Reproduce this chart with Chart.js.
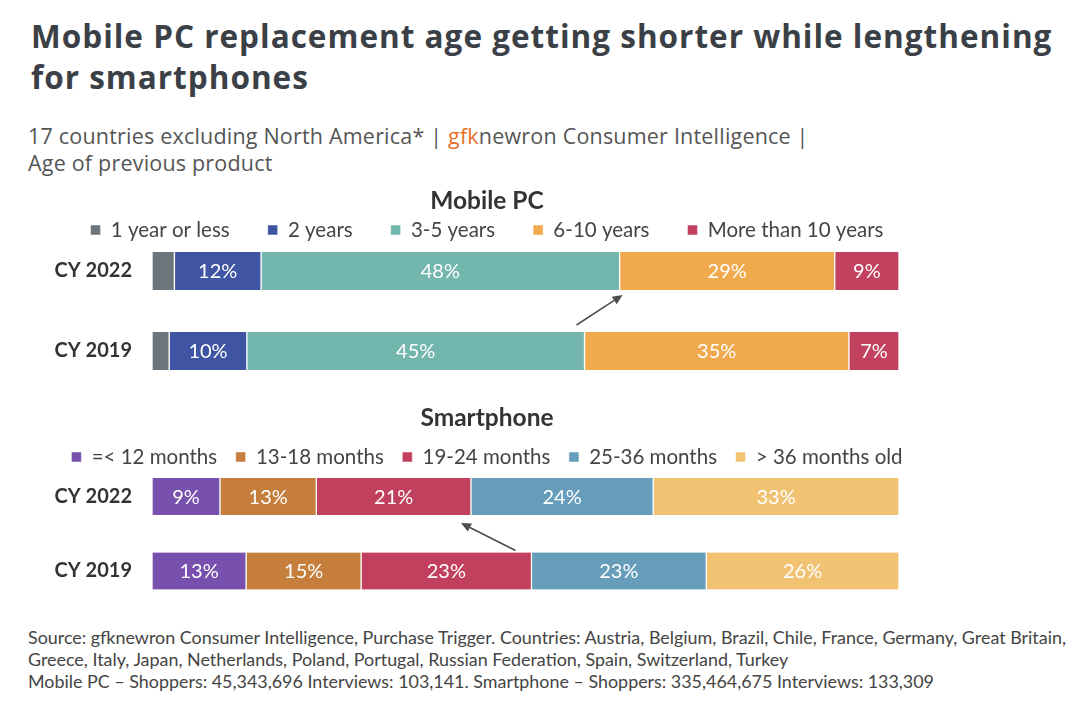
<!DOCTYPE html>
<html>
<head>
<meta charset="utf-8">
<script src="https://cdn.jsdelivr.net/npm/chart.js@4.4.0/dist/chart.umd.min.js"></script>
<style>
  html, body { margin: 0; padding: 0; background: #fff; }
  body { width: 1080px; height: 704px; position: relative; overflow: hidden; }
  h1 { position: absolute; left: 31px; top: 15px; margin: 0; width: 1045px;
       font: 700 31.5px/41px "Open Sans", sans-serif; letter-spacing: 1px; color: #3b4046; }
  .sub { position: absolute; left: 28px; top: 122px; margin: 0;
         font: 400 21.5px/27px "Open Sans", sans-serif; letter-spacing: 0.2px; color: #555; }
  .sub .gfk { color: #e8702a; }
  .box { position: absolute; left: 0; width: 975px; height: 203px; }
  #pcBox { top: 180px; }
  #spBox { top: 400px; }
  .foot { position: absolute; left: 28px; top: 626px;
          font: 400 17.9px/22px Lato, sans-serif; color: #444; white-space: nowrap; }
</style>
</head>
<body>
<h1>Mobile PC replacement age getting shorter while lengthening for smartphones</h1>
<p class="sub">17 countries excluding North America* | <span class="gfk">gfk</span>newron Consumer Intelligence |<br>Age of previous product</p>
<div class="box" id="pcBox"><canvas id="pcChart"></canvas></div>
<div class="box" id="spBox"><canvas id="spChart"></canvas></div>
<div class="foot">Source: gfknewron Consumer Intelligence, Purchase Trigger. Countries: Austria, Belgium, Brazil, Chile, France, Germany, Great Britain,<br>Greece, Italy, Japan, Netherlands, Poland, Portugal, Russian Federation, Spain, Switzerland, Turkey<br>Mobile PC – Shoppers: 45,343,696 Interviews: 103,141. Smartphone – Shoppers: 335,464,675 Interviews: 133,309</div>

<script>
// survey waves, top bar first
const years = ['CY 2022', 'CY 2019'];

// Mobile PC: age of previous product, % share (CY 2022, CY 2019)
const pcNames = ['1 year or less', '2 years', '3-5 years', '6-10 years', 'More than 10 years'];
const pcUpTo1 = [3.0, 2.3];
const pc2 = [11.6, 10.4];
const pc3to5 = [48.0, 45.2];
const pc6to10 = [28.8, 35.4];
const pcOver10 = [8.6, 6.7];

// Smartphone: age of previous product, % share (CY 2022, CY 2019)
const spNames = ['=< 12 months', '13-18 months', '19-24 months', '25-36 months', '> 36 months old'];
const spUpTo12 = [9.1, 12.6];
const sp13to18 = [12.9, 15.4];
const sp19to24 = [20.7, 22.8];
const sp25to36 = [24.4, 23.4];
const spOver36 = [32.9, 25.8];

const pcColors = ['#6c747c', '#3f55a3', '#73b6ad', '#f0a94c', '#c1415f'];
const spColors = ['#7850ad', '#c67e3c', '#c1405d', '#669dbb', '#f2c273'];

// legend: one row that may run wider than the plot, sitting close to the bars
const legendPlace = {
  id: 'legendPlace',
  beforeUpdate(chart, args, opts) {
    const lg = chart.legend;
    if (!lg || lg._placed) return;
    lg._placed = true;
    const fit = lg.fit, draw = lg.draw;
    const extra = 150;
    lg.fit = function () {
      const mw = this.maxWidth;
      this.maxWidth = mw + 2 * extra;
      fit.call(this);
      this.maxWidth = mw;
      this.width = Math.min(this.width, mw);
      this.height = opts.height;
    };
    lg.draw = function () {
      const pad = this.options.labels.padding;
      const fs = this.options.labels.font.size;
      const { top, bottom, left, right } = this;
      this.top = opts.textY - pad - fs / 2;
      this.bottom = this.top + pad + fs + 12;
      this.left = left - extra;
      this.right = right + extra;
      draw.call(this);
      Object.assign(this, { top, bottom, left, right });
    };
  }
};

// percentage inside each segment
const segmentLabels = {
  id: 'segmentLabels',
  afterDatasetsDraw(chart) {
    const c = chart.ctx;
    c.save();
    c.fillStyle = '#fff';
    c.font = '20px Lato';
    c.textAlign = 'center';
    c.textBaseline = 'middle';
    chart.data.datasets.forEach((ds, i) => {
      chart.getDatasetMeta(i).data.forEach((bar, j) => {
        const v = ds.data[j];
        if (v < 5) return;
        c.fillText(Math.round(v) + '%', (bar.x + bar.base) / 2, bar.y + 1);
      });
    });
    c.restore();
  }
};

// arrow from the 2019 boundary to the 2022 boundary
const shiftArrow = {
  id: 'shiftArrow',
  afterDatasetsDraw(chart, args, opts) {
    const meta = chart.getDatasetMeta(opts.dataset);
    const now = meta.data[0], before = meta.data[1];
    const x1 = before.x + opts.tail[0], y1 = before.y - before.height / 2 + opts.tail[1];
    const x2 = now.x + opts.head[0], y2 = now.y + now.height / 2 + opts.head[1];
    const a = Math.atan2(y2 - y1, x2 - x1);
    const len = 10, half = 4.5;
    const c = chart.ctx;
    c.save();
    c.strokeStyle = '#4a4d50';
    c.fillStyle = '#4a4d50';
    c.lineWidth = 1.5;
    c.beginPath();
    c.moveTo(x1, y1);
    c.lineTo(x2 - Math.cos(a) * len, y2 - Math.sin(a) * len);
    c.stroke();
    c.beginPath();
    c.moveTo(x2, y2);
    c.lineTo(x2 - Math.cos(a) * len - Math.sin(a) * half, y2 - Math.sin(a) * len + Math.cos(a) * half);
    c.lineTo(x2 - Math.cos(a) * len + Math.sin(a) * half, y2 - Math.sin(a) * len - Math.cos(a) * half);
    c.closePath();
    c.fill();
    c.restore();
  }
};

function stackedBars(id, names, colors, series, opt) {
  return new Chart(document.getElementById(id), {
    type: 'bar',
    data: {
      labels: years,
      datasets: series.map((s, i) => ({
        label: names[i],
        data: s,
        backgroundColor: colors[i],
        borderColor: '#fff',
        borderWidth: { left: 1, right: 1, top: 0, bottom: 0 },
        borderSkipped: false,
        barThickness: opt.thickness,
        clip: false
      }))
    },
    options: {
      indexAxis: 'y',
      responsive: true,
      maintainAspectRatio: false,
      animation: false,
      layout: { padding: { left: 75, right: 76, top: 0, bottom: 25 } },
      scales: {
        x: { stacked: true, min: 0, max: 100, display: false },
        y: {
          stacked: true,
          offset: false,
          grid: { display: false, drawTicks: false },
          border: { display: false },
          afterFit: s => {
            s.width = 77;
            s._computeLabelArea = () => undefined; // let the row labels run into the left margin
          },
          ticks: { padding: 20, color: '#333', font: { family: 'Lato', size: 20, weight: 'bold' } }
        }
      },
      plugins: {
        title: {
          display: true, text: opt.title, color: '#333',
          font: { family: 'Lato', size: 24.5, weight: 'bold' },
          padding: { top: opt.titleTop, bottom: 2 }
        },
        legend: {
          labels: { boxWidth: 10, boxHeight: 10, padding: opt.gap, color: '#444', font: { family: 'Lato', size: 20.5 } }
        },
        legendPlace: { height: opt.legendHeight, textY: opt.legendY },
        tooltip: { enabled: false },
        shiftArrow: opt.arrow
      }
    },
    plugins: [legendPlace, segmentLabels, shiftArrow]
  });
}

stackedBars('pcChart', pcNames, pcColors, [pcUpTo1, pc2, pc3to5, pc6to10, pcOver10], {
  title: 'Mobile PC', titleTop: 6.3, legendHeight: 53.3, legendY: 50, gap: 38, thickness: 38,
  arrow: { dataset: 2, tail: [-8, -7], head: [3, 5] }
});

stackedBars('spChart', spNames, spColors, [spUpTo12, sp13to18, sp19to24, sp25to36, spOver36], {
  title: 'Smartphone', titleTop: 3.3, legendHeight: 61.8, legendY: 57, gap: 18.5, thickness: 37,
  arrow: { dataset: 2, tail: [-16, -2], head: [-10, 8] }
});
</script>
</body>
</html>
